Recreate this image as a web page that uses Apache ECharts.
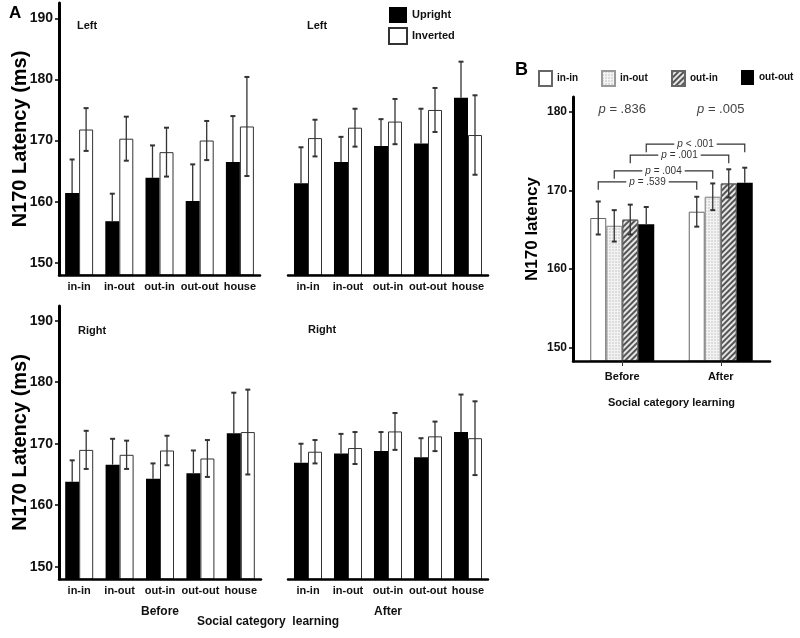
<!DOCTYPE html>
<html>
<head>
<meta charset="utf-8">
<title>N170 latency</title>
<script src="https://cdn.jsdelivr.net/npm/echarts@6.0.0/dist/echarts.min.js"></script>
<style>
  html, body { margin: 0; padding: 0; background: #fff; }
  #main { width: 800px; height: 638px; }
</style>
</head>
<body>
<div id="main"></div>
<script>
// ---- panel A : stimulus categories
var stimuli = ['in-in', 'in-out', 'out-in', 'out-out', 'house'];

// left hemisphere
var leftBeforeUp = [161.4, 156.8, 163.9, 160.1, 166.5];
var leftBeforeUpErr = [5.5, 4.5, 5.3, 6.0, 7.5];
var leftBeforeInv = [171.8, 170.3, 168.1, 170.0, 172.3];
var leftBeforeInvErr = [3.5, 3.6, 4.0, 3.2, 8.1];
var leftAfterUp = [163.0, 166.5, 169.1, 169.5, 177.0];
var leftAfterUpErr = [5.9, 4.1, 4.4, 5.7, 5.9];
var leftAfterInv = [170.4, 172.1, 173.1, 175.0, 170.9];
var leftAfterInvErr = [3.0, 3.1, 3.7, 3.6, 6.5];

// right hemisphere
var rightBeforeUp = [163.8, 166.6, 164.3, 165.2, 171.7];
var rightBeforeUpErr = [3.5, 4.2, 2.5, 3.7, 6.6];
var rightBeforeInv = [169.0, 168.2, 168.9, 167.6, 171.9];
var rightBeforeInvErr = [3.1, 2.3, 2.4, 3.0, 6.9];
var rightAfterUp = [166.9, 168.4, 168.8, 167.8, 171.9];
var rightAfterUpErr = [3.1, 3.2, 3.1, 3.1, 6.1];
var rightAfterInv = [168.7, 169.3, 172.0, 171.2, 170.9];
var rightAfterInvErr = [1.9, 2.6, 3.0, 2.4, 6.0];

// ---- panel B
var sessions = ['Before', 'After'];
var inIn = [166.5, 167.3];
var inInErr = [2.1, 1.9];
var inOut = [165.5, 169.2];
var inOutErr = [2.0, 1.7];
var outIn = [166.3, 170.9];
var outInErr = [1.9, 1.8];
var outOut = [165.7, 171.0];
var outOutErr = [2.2, 1.9];
var overallP = ['= .836', '= .005'];
var pairP = ['= .539', '= .004', '= .001', '< .001'];

var ff = '"Liberation Sans", Arial, sans-serif';

// error bars drawn as custom series, off = px offset of the bar inside its group
// upOnly: on black bars only the upper half shows
function errSeries(gi, vals, errs, off, upOnly) {
  var d = [];
  for (var i = 0; i < vals.length; i++) {
    d.push([i, upOnly ? vals[i] : vals[i] - errs[i], vals[i] + errs[i]]);
  }
  return {
    type: 'custom',
    xAxisIndex: gi,
    yAxisIndex: gi,
    data: d,
    z: 6,
    silent: true,
    encode: { x: 0, y: [1, 2] },
    renderItem: function(params, api) {
      var lo = api.coord([api.value(0), api.value(1)]);
      var hi = api.coord([api.value(0), api.value(2)]);
      var x = lo[0] + off;
      var st = { stroke: '#333', lineWidth: 1.3 };
      var cap = { stroke: '#333', lineWidth: 2 };
      var kids = [
        { type: 'line', shape: { x1: x, y1: lo[1], x2: x, y2: hi[1] }, style: st },
        { type: 'line', shape: { x1: x - 2.5, y1: hi[1], x2: x + 2.5, y2: hi[1] }, style: cap }
      ];
      if (!upOnly) {
        kids.push({ type: 'line', shape: { x1: x - 2.5, y1: lo[1], x2: x + 2.5, y2: lo[1] }, style: cap });
      }
      return { type: 'group', children: kids };
    }
  };
}

function barA(gi, name, vals) {
  var white = name == 'Inverted';
  return {
    type: 'bar',
    name: name,
    xAxisIndex: gi,
    yAxisIndex: gi,
    data: vals,
    barWidth: 14,
    barGap: '0%',
    itemStyle: white ? { color: '#fff', borderColor: '#333', borderWidth: 1 } : { color: '#000' }
  };
}

function xAxisA(gi, name) {
  return {
    type: 'category',
    gridIndex: gi,
    data: stimuli,
    z: 10,
    axisLine: { lineStyle: { color: '#000', width: 2.5 } },
    axisTick: { show: false },
    axisLabel: { interval: 0, color: '#111', fontFamily: ff, fontWeight: 'bold', fontSize: 11, margin: 6 },
    name: name,
    nameLocation: 'middle',
    nameGap: 27,
    nameTextStyle: { color: '#111', fontFamily: ff, fontWeight: 'bold', fontSize: 12 }
  };
}

function yAxisA(gi, max, showIt) {
  return {
    type: 'value',
    gridIndex: gi,
    show: showIt,
    min: 148,
    max: max,
    splitNumber: 4,
    minInterval: 10,
    maxInterval: 10,
    splitLine: { show: false },
    axisLine: { show: true, lineStyle: { color: '#000', width: 3 } },
    axisTick: { show: true, length: 4, lineStyle: { color: '#000', width: 1.5 } },
    axisLabel: { color: '#111', fontFamily: ff, fontWeight: 'bold', fontSize: 14, margin: 6,
      showMinLabel: false, showMaxLabel: false },
    name: 'N170 Latency (ms)',
    nameLocation: 'middle',
    nameGap: 29,
    nameMoveOverlap: false,
    nameRotate: 90,
    nameTextStyle: { color: '#000', fontFamily: ff, fontWeight: 'bold', fontSize: 20 }
  };
}

function barB(name, vals, style) {
  return {
    type: 'bar',
    name: name,
    xAxisIndex: 4,
    yAxisIndex: 4,
    data: vals,
    barWidth: 16,
    barGap: '0%',
    itemStyle: style
  };
}

var grids = [
  { left: 59, top: 3, width: 201, height: 272 },
  { left: 288, top: 3, width: 200, height: 272 },
  { left: 59, top: 306, width: 202, height: 273 },
  { left: 288, top: 306, width: 200, height: 273 },
  { left: 573, top: 97, width: 197, height: 264 }
];
grids.forEach(function(g) { g.containLabel = false; g.outerBoundsMode = 'none'; });

var bracketLevels = [171.1, 172.5, 174.5, 175.9];

var styleInIn = { color: '#fff', borderColor: '#666', borderWidth: 1 };
var styleInOut = { color: '#f3f3f3', borderColor: '#999', borderWidth: 1,
  decal: { symbol: 'circle', symbolSize: 0.7, dashArrayX: [2, 1], dashArrayY: [2, 1], color: '#b5b5b5' } };
var styleOutIn = { color: '#e6e6e6', borderColor: '#666', borderWidth: 1,
  decal: { symbol: 'rect', symbolSize: 1, dashArrayX: [1, 0], dashArrayY: [1.4, 1.8], rotation: -Math.PI / 4, color: '#555' } };
var styleOutOut = { color: '#000' };

var option = {
  animation: false,
  backgroundColor: '#fff',
  grid: grids,
  xAxis: [
    xAxisA(0, ''),
    xAxisA(1, ''),
    xAxisA(2, 'Before'),
    xAxisA(3, 'After'),
    {
      type: 'category',
      gridIndex: 4,
      data: sessions,
      z: 10,
      axisLine: { lineStyle: { color: '#000', width: 2.5 } },
      axisTick: { show: true, alignWithLabel: true, length: 5, lineStyle: { color: '#333', width: 1 } },
      axisLabel: { color: '#111', fontFamily: ff, fontWeight: 'bold', fontSize: 11, margin: 10 },
      name: 'Social category learning',
      nameLocation: 'middle',
      nameGap: 36,
      nameTextStyle: { color: '#111', fontFamily: ff, fontWeight: 'bold', fontSize: 11 }
    }
  ],
  yAxis: [
    yAxisA(0, 192.5, true),
    yAxisA(1, 192.5, false),
    yAxisA(2, 192.4, true),
    yAxisA(3, 192.4, false),
    {
      type: 'value',
      gridIndex: 4,
      min: 148.3,
      max: 181.9,
      splitNumber: 3,
      minInterval: 10,
      maxInterval: 10,
      splitLine: { show: false },
      axisLine: { show: true, lineStyle: { color: '#000', width: 3 } },
      axisTick: { show: true, length: 4, lineStyle: { color: '#000', width: 1.5 } },
      axisLabel: { color: '#111', fontFamily: ff, fontWeight: 'bold', fontSize: 12, margin: 6,
        showMinLabel: false, showMaxLabel: false },
      name: 'N170 latency',
      nameLocation: 'middle',
      nameGap: 32,
      nameMoveOverlap: false,
      nameRotate: 90,
      nameTextStyle: { color: '#000', fontFamily: ff, fontWeight: 'bold', fontSize: 17 }
    }
  ],
  legend: [
    {
      data: ['Upright', 'Inverted'],
      orient: 'vertical',
      left: 383, top: 2,
      icon: 'rect',
      itemWidth: 18, itemHeight: 16, itemGap: 4,
      selectedMode: false,
      textStyle: { color: '#111', fontFamily: ff, fontWeight: 'bold', fontSize: 11 }
    },
    { data: ['in-in'], left: 533, top: 65 },
    { data: ['in-out'], left: 596, top: 65 },
    { data: ['out-in'], left: 666, top: 65 },
    { data: ['out-out'], left: 736, top: 65 }
  ],
  graphic: [
    { type: 'text', left: 9, top: 5, style: { text: 'A', fill: '#000', font: 'bold 17px ' + ff } },
    { type: 'text', left: 515, top: 61, style: { text: 'B', fill: '#000', font: 'bold 18px ' + ff } },
    { type: 'text', left: 77, top: 20, style: { text: 'Left', fill: '#111', font: 'bold 11px ' + ff } },
    { type: 'text', left: 307, top: 20, style: { text: 'Left', fill: '#111', font: 'bold 11px ' + ff } },
    { type: 'text', left: 78, top: 325, style: { text: 'Right', fill: '#111', font: 'bold 11px ' + ff } },
    { type: 'text', left: 308, top: 324, style: { text: 'Right', fill: '#111', font: 'bold 11px ' + ff } },
    { type: 'text', left: 197, top: 616, style: { text: 'Social category  learning', fill: '#111', font: 'bold 12px ' + ff } }
  ],
  series: [
    barA(0, 'Upright', leftBeforeUp), barA(0, 'Inverted', leftBeforeInv),
    errSeries(0, leftBeforeUp, leftBeforeUpErr, -7, true), errSeries(0, leftBeforeInv, leftBeforeInvErr, 7),
    barA(1, 'Upright', leftAfterUp), barA(1, 'Inverted', leftAfterInv),
    errSeries(1, leftAfterUp, leftAfterUpErr, -7, true), errSeries(1, leftAfterInv, leftAfterInvErr, 7),
    barA(2, 'Upright', rightBeforeUp), barA(2, 'Inverted', rightBeforeInv),
    errSeries(2, rightBeforeUp, rightBeforeUpErr, -7, true), errSeries(2, rightBeforeInv, rightBeforeInvErr, 7),
    barA(3, 'Upright', rightAfterUp), barA(3, 'Inverted', rightAfterInv),
    errSeries(3, rightAfterUp, rightAfterUpErr, -7, true), errSeries(3, rightAfterInv, rightAfterInvErr, 7),

    barB('in-in', inIn, styleInIn),
    barB('in-out', inOut, styleInOut),
    barB('out-in', outIn, styleOutIn),
    barB('out-out', outOut, styleOutOut),
    errSeries(4, inIn, inInErr, -24), errSeries(4, inOut, inOutErr, -8),
    errSeries(4, outIn, outInErr, 8), errSeries(4, outOut, outOutErr, 24, true),

    // pairwise brackets before vs after
    {
      type: 'custom',
      xAxisIndex: 4,
      yAxisIndex: 4,
      silent: true,
      z: 7,
      data: bracketLevels.map(function(l) { return [0, l]; }),
      renderItem: function(params, api) {
        var k = params.dataIndex;
        var a = api.coord([0, api.value(1)]);
        var b = api.coord([1, api.value(1)]);
        var off = (k - 1.5) * 16;
        var x1 = a[0] + off, x2 = b[0] + off, y = a[1];
        return {
          type: 'group',
          children: [
            { type: 'polyline', shape: { points: [[x1, y + 8], [x1, y], [x2, y], [x2, y + 8]] },
              style: { stroke: '#333', lineWidth: 1.2, fill: null } },
            { type: 'text', x: (x1 + x2) / 2, y: y,
              style: { text: '{i|p} ' + pairP[k], fill: '#333', fontFamily: ff, fontSize: 10,
                align: 'center', verticalAlign: 'middle', backgroundColor: '#fff', padding: [0, 3],
                rich: { i: { fontStyle: 'italic', fontSize: 10, fontFamily: ff, fill: '#333' } } } }
          ]
        };
      }
    },
    // overall p values on top
    {
      type: 'custom',
      xAxisIndex: 4,
      yAxisIndex: 4,
      silent: true,
      z: 7,
      data: [[0, 180.3], [1, 180.3]],
      renderItem: function(params, api) {
        var c = api.coord([api.value(0), api.value(1)]);
        return {
          type: 'text', x: c[0], y: c[1],
          style: { text: '{i|p} ' + overallP[params.dataIndex], fill: '#444', fontFamily: ff, fontSize: 13,
            align: 'center', verticalAlign: 'middle',
            rich: { i: { fontStyle: 'italic', fontSize: 13, fontFamily: ff, fill: '#444' } } }
        };
      }
    }
  ]
};

// common look for the four B legends
for (var i = 1; i < 5; i++) {
  var lg = option.legend[i];
  lg.icon = 'rect';
  lg.itemWidth = 13;
  lg.itemHeight = 15;
  lg.selectedMode = false;
  lg.textStyle = { color: '#111', fontFamily: ff, fontWeight: 'bold', fontSize: 10 };
}

var chart = echarts.init(document.getElementById('main'), null, { renderer: 'canvas' });
chart.setOption(option);
</script>
</body>
</html>
